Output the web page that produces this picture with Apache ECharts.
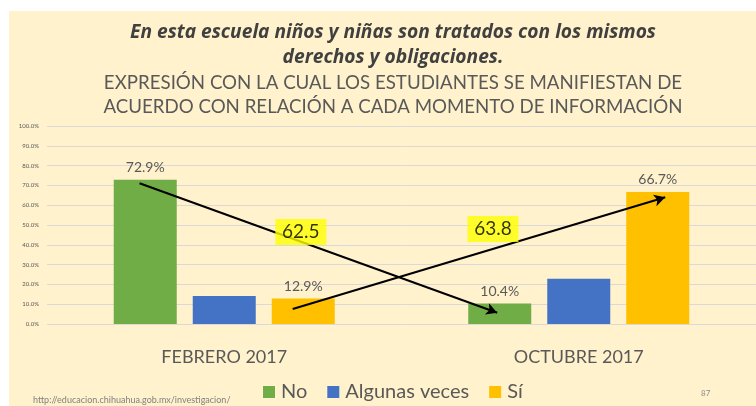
<!DOCTYPE html>
<html><head><meta charset="utf-8">
<script src="https://cdn.jsdelivr.net/npm/echarts@6/dist/echarts.min.js"></script>
<style>html,body{margin:0;padding:0;background:#fff}#c{width:756px;height:406px}</style>
</head><body><div id="c"></div>
<script>
const categories = ['FEBRERO 2017', 'OCTUBRE 2017'];
const seriesNames = ['No', 'Algunas veces', 'Sí'];
const noValues = [72.9, 10.4];
const algunasValues = [14.2, 22.9];
const siValues = [12.9, 66.7];
const showLabels = [true, false, true];
// Arrows: [start, end] in [position along the category axis (0..2), percent]
const arrowNo = [[0.261, 71.1], [1.270, 5.7]];
const arrowSi = [[0.693, 7.6], [1.744, 64.0]];
const boxLabels = [[0.716, 46.5, '62.5'], [1.258, 48.0, '63.8']];

const colors = ['#70AD47', '#4472C4', '#FFC000'];
const font = 'Lato, "Open Sans", sans-serif';
const values = [noValues, algunasValues, siValues];

const chart = echarts.init(document.getElementById('c'));
const barSeries = seriesNames.map((n, i) => ({
  name: n, type: 'bar', data: values[i], barWidth: 63, barGap: '25.4%',
  itemStyle: { color: colors[i] },
  label: { show: showLabels[i], position: 'top', distance: 5, color: '#595959', fontSize: 14, fontFamily: font,
           formatter: p => p.value.toFixed(1) + '%' },
  emphasis: { disabled: true }
}));
const arrowSeries = {
  type: 'line', xAxisIndex: 1, data: [], silent: true,
  markLine: {
    silent: true, symbol: ['none', 'arrow'], symbolSize: [9, 11],
    lineStyle: { color: '#000', width: 2, type: 'solid' },
    label: { show: false },
    data: [
      [{ coord: arrowNo[0] }, { coord: arrowNo[1] }],
      [{ coord: arrowSi[0] }, { coord: arrowSi[1] }]
    ]
  }
};
const boxSeries = {
  type: 'scatter', xAxisIndex: 1, symbolSize: 0, silent: true, z: 10,
  data: boxLabels.map(b => ({ value: [b[0], b[1]], name: b[2] })),
  label: { show: true, position: 'inside', formatter: p => p.name, color: '#000', fontSize: 19, fontFamily: font,
           backgroundColor: '#FFFF00', padding: [4, 8, 3, 8], width: 35, align: 'center' }
};

chart.setOption({
  backgroundColor: '#fff',
  animation: false,
  graphic: [
    { type: 'rect', left: 9, top: 11, shape: { width: 760, height: 400 }, style: { fill: '#FFF2CC' }, z: -10 },
    { type: 'text', left: 33, top: 396, style: { text: 'http://educacion.chihuahua.gob.mx/investigacion/', fill: '#808080', font: '9px ' + font } },
    { type: 'text', left: 701, top: 389, style: { text: '87', fill: '#8c8c8c', font: '8px ' + font } }
  ],
  title: [
    { text: 'En esta escuela niños y niñas son tratados con los mismos\nderechos y obligaciones.', left: 388, top: 15, textAlign: 'center',
      textStyle: { fontSize: 19.2, fontStyle: 'italic', fontWeight: 'bold', color: '#404040', fontFamily: '"Open Sans", Lato, sans-serif', lineHeight: 25 } },
    { text: 'EXPRESIÓN CON LA CUAL LOS ESTUDIANTES SE MANIFIESTAN DE\nACUERDO CON RELACIÓN A CADA MOMENTO DE INFORMACIÓN', left: 388, top: 66, textAlign: 'center',
      textStyle: { fontSize: 18.7, fontWeight: 'normal', color: '#595959', fontFamily: font, lineHeight: 24 } }
  ],
  legend: {
    data: seriesNames, left: 263, top: 382, padding: 0, itemWidth: 12, itemHeight: 12, itemGap: 20,
    icon: 'rect', textStyle: { fontSize: 20, color: '#595959', fontFamily: font, padding: [0, 0, 0, 1] }
  },
  grid: { left: 47, top: 126, width: 714, height: 198, containLabel: false },
  xAxis: [
    { type: 'category', data: categories, axisLine: { show: false }, axisTick: { show: false },
      axisLabel: { color: '#595959', fontSize: 18, fontFamily: font, margin: 24 } },
    { type: 'value', min: 0, max: 2, show: false }
  ],
  yAxis: {
    type: 'value', min: 0, max: 100, interval: 10,
    axisLine: { show: false }, axisTick: { show: false },
    axisLabel: { color: '#595959', fontSize: 6, fontFamily: font, margin: 8, formatter: v => v.toFixed(1) + '%' },
    splitLine: { lineStyle: { color: '#D9D9D9', width: 1 } }
  },
  series: [...barSeries, arrowSeries, boxSeries]
});
</script></body></html>
